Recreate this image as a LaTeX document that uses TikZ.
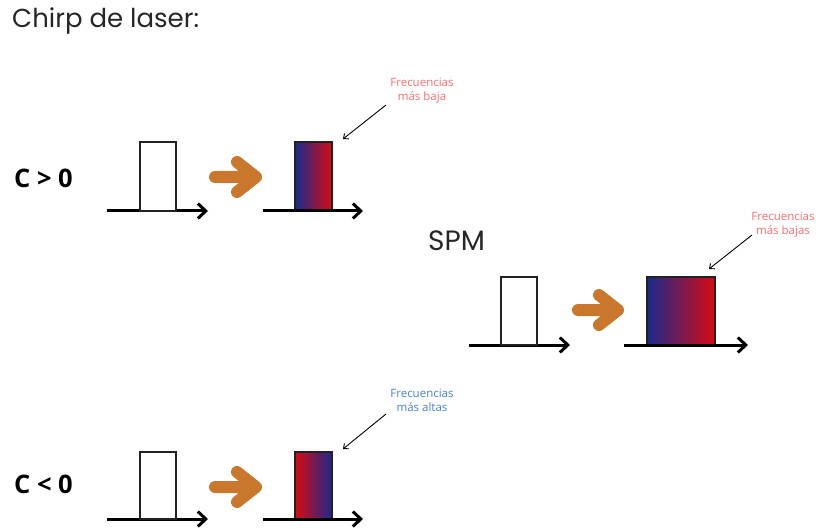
\documentclass[tikz,border=0pt]{standalone}
\usepackage{fontspec}
\setmainfont{Poppins}
\newfontfamily\labelfont{Open Sans}
\usetikzlibrary{arrows.meta}
\definecolor{titlegray}{HTML}{262626}
\definecolor{pulseorange}{HTML}{C8772C}
\definecolor{lowred}{HTML}{FF6B6B}
\definecolor{highblue}{HTML}{4A7FD0}
\definecolor{gblue}{HTML}{1B2A8C}
\definecolor{gred}{HTML}{D80A12}
\definecolor{rimgray}{HTML}{222222}
\tikzset{
  axis/.style={line width=3pt, -{Straight Barb[length=8pt,width=15pt,line width=3pt]}},
  pulse/.style={draw=rimgray, line width=1.6pt},
  evolve/.style={draw=pulseorange, line width=12pt, line cap=round, line join=round},
  pointer/.style={line width=0.9pt, -{Straight Barb[length=4pt,width=7pt,line width=0.9pt]}},
  note/.style={font=\labelfont\fontsize{11.5}{14}\selectfont, align=center, inner sep=0pt},
  chirp/.style={font=\labelfont\bfseries\fontsize{25.5}{30}\selectfont, inner sep=0pt, anchor=west},
  heading/.style={anchor=west, inner sep=0pt, text=titlegray}
}
\begin{document}
\begin{tikzpicture}[x=1pt,y=-1pt]
\useasboundingbox (0,0) rectangle (816,529);
% title
\node[heading, font=\fontsize{26}{30}\selectfont] (title) at (12,21) {Chirp de laser:};

% ---------- C > 0 ----------
\node[chirp] (cpos) at (14,178) {C > 0};
\coordinate (a1s) at (107,211); \coordinate (a1e) at (208,211);
\draw[axis] (a1s) -- (a1e);
\draw[pulse, fill=white] (140,142) rectangle (176,211);
\draw[evolve] (215,177) -- (256,177) (237,162) -- (256,177) -- (237,192);
\coordinate (a2s) at (263,211); \coordinate (a2e) at (363,211);
\shade[left color=gblue, right color=gred] (295,142) rectangle (332,211);
\draw[pulse] (295,142) rectangle (332,211);
\draw[axis] (a2s) -- (a2e);
\node[note, text=lowred] (nlow1) at (422,91) {Frecuencias\\más baja};
\coordinate (p1s) at (386,105); \coordinate (p1e) at (343,139);
\draw[pointer] (p1s) -- (p1e);

% ---------- SPM ----------
\node[heading, font=\fontsize{28}{32}\selectfont] (spm) at (428,241) {SPM};
\coordinate (a3s) at (469,345); \coordinate (a3e) at (570,345);
\draw[axis] (a3s) -- (a3e);
\draw[pulse, fill=white] (501,277) rectangle (537,345);
\draw[evolve] (578,310) -- (618,310) (599,295) -- (618,310) -- (599,325);
\coordinate (a4s) at (624,345); \coordinate (a4e) at (748,345);
\shade[left color=gblue, right color=gred] (647,277) rectangle (715,345);
\draw[pulse] (647,277) rectangle (715,345);
\draw[axis] (a4s) -- (a4e);
\node[note, text=lowred] (nlow2) at (783,225) {Frecuencias\\más bajas};
\coordinate (p2s) at (752,235); \coordinate (p2e) at (709,269);
\draw[pointer] (p2s) -- (p2e);

% ---------- C < 0 ----------
\node[chirp] (cneg) at (14,484) {C < 0};
\coordinate (a5s) at (107,519); \coordinate (a5e) at (208,519);
\draw[axis] (a5s) -- (a5e);
\draw[pulse, fill=white] (140,452) rectangle (176,519);
\draw[evolve] (215,487) -- (256,487) (237,472) -- (256,487) -- (237,502);
\coordinate (a6s) at (263,519); \coordinate (a6e) at (363,519);
\shade[left color=gred, right color=gblue] (295,452) rectangle (332,519);
\draw[pulse] (295,452) rectangle (332,519);
\draw[axis] (a6s) -- (a6e);
\node[note, text=highblue] (nhigh) at (422,400) {Frecuencias\\más altas};
\coordinate (p3s) at (386,414); \coordinate (p3e) at (343,449);
\draw[pointer] (p3s) -- (p3e);
\end{tikzpicture}
\end{document}
